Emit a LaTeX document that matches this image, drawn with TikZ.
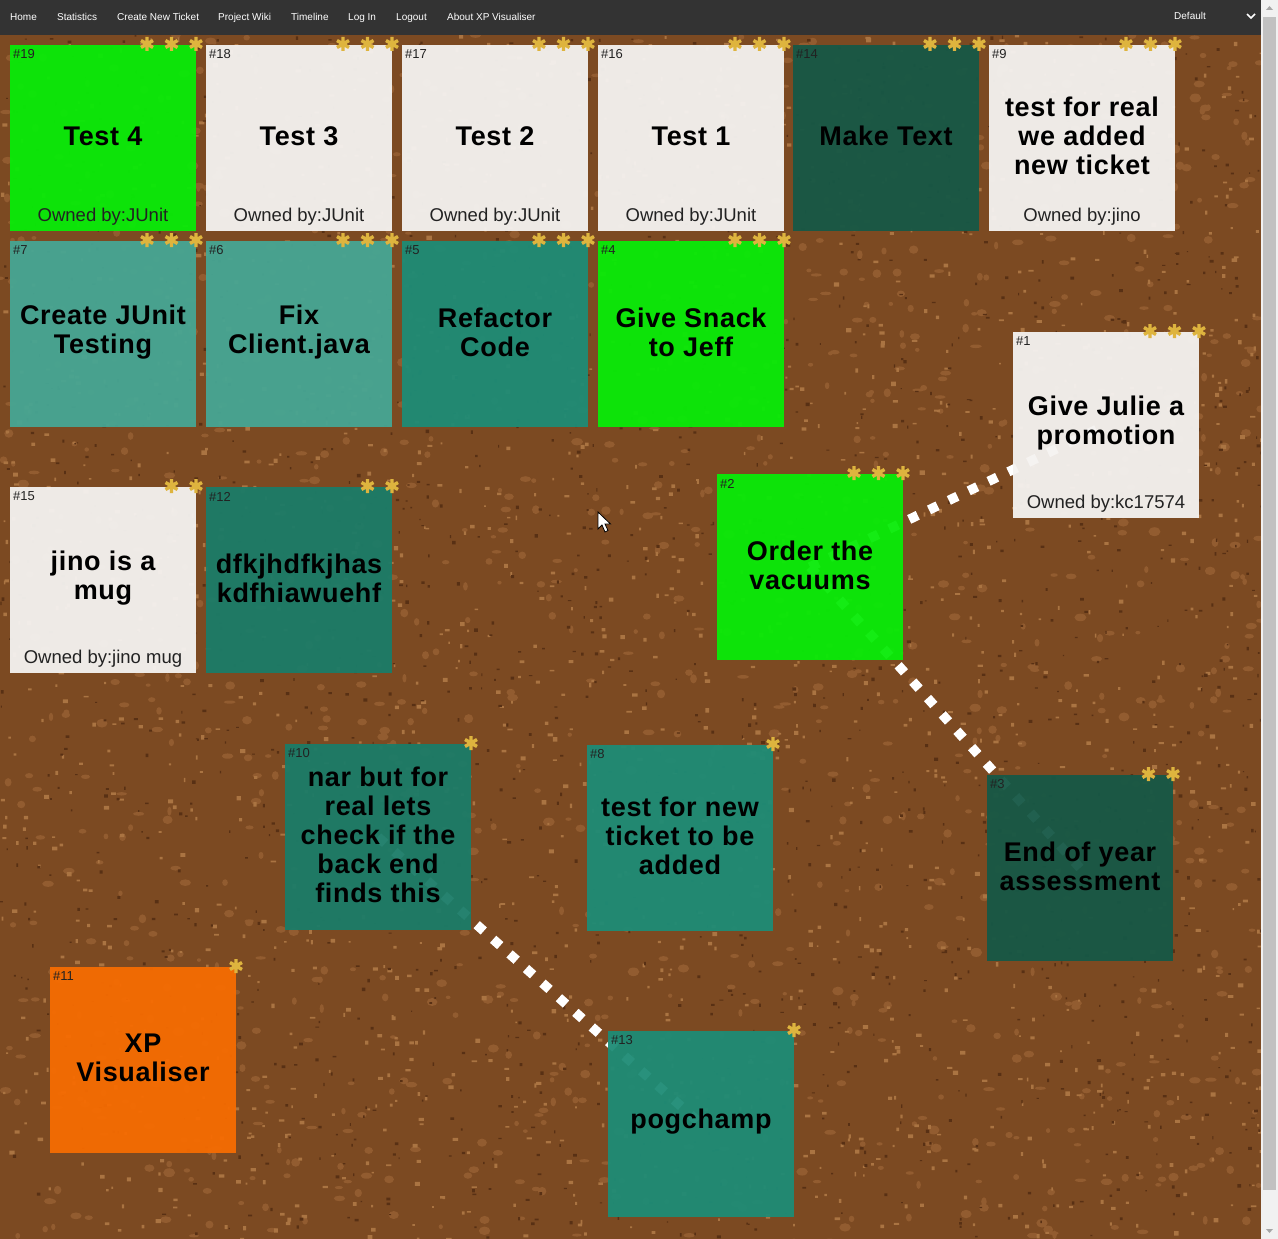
\documentclass[tikz,border=0pt]{standalone}
\usepackage{fontspec}
\setmainfont{Liberation Sans}
\usetikzlibrary{calc}
\definecolor{navbg}{RGB}{51,51,51}
\definecolor{corkbase}{RGB}{124,74,34}
\definecolor{corklight}{RGB}{170,116,66}
\definecolor{corkmid}{RGB}{146,92,48}
\definecolor{corkdark}{RGB}{88,48,20}
\definecolor{lime}{RGB}{8,236,8}
\definecolor{paper}{RGB}{245,243,241}
\definecolor{deep}{RGB}{22,88,70}
\definecolor{midteal}{RGB}{70,166,148}
\definecolor{teal1}{RGB}{30,140,118}
\definecolor{teal2}{RGB}{27,124,104}
\definecolor{orng}{RGB}{246,108,2}
\definecolor{tackc}{RGB}{222,180,62}
\definecolor{inkgrey}{RGB}{34,34,34}
\definecolor{trackc}{RGB}{241,241,241}
\definecolor{thumbc}{RGB}{193,193,193}
\pgfdeclarelayer{cork}
\pgfdeclarelayer{links}
\pgfsetlayers{cork,links,main}
\tikzset{
  note/.style={anchor=north west, minimum width=186pt, minimum height=186pt,
    inner sep=0pt, outer sep=0pt, fill opacity=0.95, text opacity=1},
  titletext/.style={align=center, inner sep=0pt, text=black,
    font=\bfseries\fontsize{27}{29}\selectfont\addfontfeature{LetterSpace=2.5}},
  numlbl/.style={anchor=west, inner sep=0pt, text=inkgrey, font=\fontsize{13}{15}\selectfont},
  ownerlbl/.style={inner sep=0pt, text=inkgrey, font=\fontsize{18.5}{21}\selectfont},
  navitem/.style={anchor=base west, inner sep=0pt, text=white, font=\fontsize{10}{12}\selectfont},
  link/.style={draw=white, line width=9.5pt, dash pattern=on 9.5pt off 12.5pt},
  pics/tack/.style={code={\draw[tackc, line width=3.4pt]
     (0pt,7pt)--(0pt,-7pt) (-6pt,3.5pt)--(6pt,-3.5pt) (-6pt,-3.5pt)--(6pt,3.5pt);}}
}
\newcommand\stick[8]{%
  \node[note, fill=#4] (#1) at (#2,#3) {};
  \node[numlbl] (#1-n) at ([xshift=3pt,yshift=-9.5pt]#1.north west) {\##5};
  \node[titletext] (#1-t) at ([yshift=2pt]#1.center) {#6};
  \if\relax\detokenize{#7}\relax\else
    \node[ownerlbl] (#1-o) at ([yshift=14pt]#1.south) {#7};
  \fi
  \foreach \k in {1,...,#8}{\pic at ([xshift={-(\k-1)*24.5pt},yshift=1pt]#1.north east) {tack};}
}
\begin{document}
\begin{tikzpicture}[x=1pt,y=-1pt]
\useasboundingbox (0,0) rectangle (1278,1239);
% cork board
\begin{pgfonlayer}{cork}
\fill[corkbase] (0,35) rectangle (1261,1239);
\begin{scope}
\clip (0,35) rectangle (1261,1239);
\pgfmathsetseed{17}
\fill[corkmid] \foreach \i in {1,...,1300}{ ({rnd*1261},{35+rnd*1204}) ellipse [x radius={(2+rnd*4)*1pt}, y radius={(1.5+rnd*3)*1pt}] };
\fill[corklight] \foreach \i in {1,...,1800}{ ({rnd*1261},{35+rnd*1204}) rectangle ++({1.5+rnd*4},{1.5+rnd*3}) };
\fill[corkdark] \foreach \i in {1,...,1800}{ ({rnd*1261},{35+rnd*1204}) rectangle ++({1+rnd*3},{1+rnd*2.5}) };
\end{scope}
\end{pgfonlayer}
% navigation bar
\fill[navbg] (0,0) rectangle (1261,35);
\node[navitem] (nav1) at (10,21) {Home};
\node[navitem] (nav2) at (57,21) {Statistics};
\node[navitem] (nav3) at (117,21) {Create New Ticket};
\node[navitem] (nav4) at (218,21) {Project Wiki};
\node[navitem] (nav5) at (291,21) {Timeline};
\node[navitem] (nav6) at (348,21) {Log In};
\node[navitem] (nav7) at (396,21) {Logout};
\node[navitem] (nav8) at (447,21) {About XP Visualiser};
\node[navitem] (navdef) at (1174,20) {Default};
\coordinate (chev) at (1251,16);
\draw[white, line width=1.6pt] ([xshift=-4pt,yshift=2pt]chev) -- ([yshift=-2pt]chev) -- ([xshift=4pt,yshift=2pt]chev);
% scrollbar
\fill[trackc] (1261,0) rectangle (1278,1239);
\fill[thumbc] (1263,17) rectangle (1276,1190);
\coordinate (sup) at (1269.5,8);
\coordinate (sdn) at (1269.5,1231);
\fill[gray!70] ([xshift=-3.5pt,yshift=-2pt]sup) -- ([yshift=2pt]sup) -- ([xshift=3.5pt,yshift=-2pt]sup) -- cycle;
\fill[gray!70] ([xshift=-3.5pt,yshift=2pt]sdn) -- ([yshift=-2pt]sdn) -- ([xshift=3.5pt,yshift=2pt]sdn) -- cycle;
% notes
\stick{n19}{10}{45}{lime}{19}{Test 4}{Owned by:JUnit}{3}
\stick{n18}{206}{45}{paper}{18}{Test 3}{Owned by:JUnit}{3}
\stick{n17}{402}{45}{paper}{17}{Test 2}{Owned by:JUnit}{3}
\stick{n16}{598}{45}{paper}{16}{Test 1}{Owned by:JUnit}{3}
\stick{n14}{793}{45}{deep}{14}{Make Text}{}{3}
\stick{n9}{989}{45}{paper}{9}{test for real\\we added\\new ticket}{Owned by:jino}{3}
\stick{n7}{10}{241}{midteal}{7}{Create JUnit\\Testing}{}{3}
\stick{n6}{206}{241}{midteal}{6}{Fix\\Client.java}{}{3}
\stick{n5}{402}{241}{teal1}{5}{Refactor\\Code}{}{3}
\stick{n4}{598}{241}{lime}{4}{Give Snack\\to Jeff}{}{3}
\stick{n1}{1013}{332}{paper}{1}{Give Julie a\\promotion}{Owned by:kc17574}{3}
\stick{n15}{10}{487}{paper}{15}{jino is a\\mug}{Owned by:jino mug}{2}
\stick{n12}{206}{487}{teal2}{12}{dfkjhdfkjhas\\kdfhiawuehf}{}{2}
\stick{n2}{717}{474}{lime}{2}{Order the\\vacuums}{}{3}
\stick{n10}{285}{744}{teal2}{10}{nar but for\\real lets\\check if the\\back end\\finds this}{}{1}
\stick{n8}{587}{745}{teal1}{8}{test for new\\ticket to be\\added}{}{1}
\stick{n3}{987}{775}{deep}{3}{End of year\\assessment}{}{2}
\stick{n11}{50}{967}{orng}{11}{XP\\Visualiser}{}{1}
\stick{n13}{608}{1031}{teal1}{13}{pogchamp}{}{1}
% connectors
\begin{pgfonlayer}{links}
\draw[link] (n2.center) -- (n1.center);
\draw[link] (n2.center) -- (n3.center);
\draw[link] (n10.center) -- (n13.center);
\end{pgfonlayer}
% mouse pointer
\coordinate (cursor) at (598,512);
\draw[black, fill=white, line width=0.8pt, line join=miter] (cursor) -- ++(0,17) -- ++(4,-4) -- ++(3,7) -- ++(3,-1.5) -- ++(-3,-6.5) -- ++(5.5,0) -- cycle;
\end{tikzpicture}
\end{document}
